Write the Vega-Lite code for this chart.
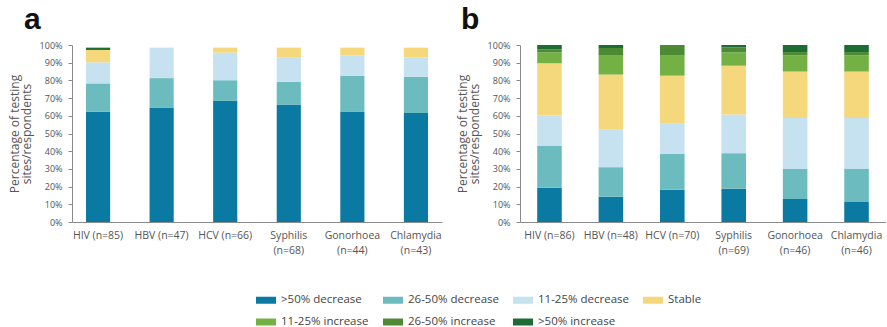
{
  "$schema": "https://vega.github.io/schema/vega-lite/v6.json",
  "background": "white",
  "padding": {"left": 8, "top": 5, "right": 0, "bottom": 4},
  "config": {
    "view": {"stroke": null},
    "font": "Open Sans",
    "concat": {"spacing": 14},
    "axis": {
      "domainColor": "#8a8a8a",
      "tickColor": "#8a8a8a",
      "labelColor": "#555555",
      "titleColor": "#555555",
      "labelFont": "Open Sans",
      "titleFont": "Open Sans",
      "grid": false
    },
    "legend": {
      "labelFont": "Open Sans",
      "labelColor": "#444444",
      "labelFontSize": 11.5
    }
  },
  "datasets": {
    "d": [
      {"panel": "a", "label": "HIV (n=85)", "change": ">50% decrease", "value": 62.2},
      {"panel": "a", "label": "HIV (n=85)", "change": "26-50% decrease", "value": 16.1},
      {"panel": "a", "label": "HIV (n=85)", "change": "11-25% decrease", "value": 11.9},
      {"panel": "a", "label": "HIV (n=85)", "change": "Stable", "value": 7.0},
      {"panel": "a", "label": "HIV (n=85)", "change": ">50% increase", "value": 1.3},
      {"panel": "a", "label": "HBV (n=47)", "change": ">50% decrease", "value": 64.7},
      {"panel": "a", "label": "HBV (n=47)", "change": "26-50% decrease", "value": 16.6},
      {"panel": "a", "label": "HBV (n=47)", "change": "11-25% decrease", "value": 17.2},
      {"panel": "a", "label": "HCV (n=66)", "change": ">50% decrease", "value": 68.4},
      {"panel": "a", "label": "HCV (n=66)", "change": "26-50% decrease", "value": 11.7},
      {"panel": "a", "label": "HCV (n=66)", "change": "11-25% decrease", "value": 15.6},
      {"panel": "a", "label": "HCV (n=66)", "change": "Stable", "value": 2.8},
      {"panel": "a", "label": "Syphilis|(n=68)", "change": ">50% decrease", "value": 66.4},
      {"panel": "a", "label": "Syphilis|(n=68)", "change": "26-50% decrease", "value": 12.8},
      {"panel": "a", "label": "Syphilis|(n=68)", "change": "11-25% decrease", "value": 13.6},
      {"panel": "a", "label": "Syphilis|(n=68)", "change": "Stable", "value": 5.7},
      {"panel": "a", "label": "Gonorhoea|(n=44)", "change": ">50% decrease", "value": 62.4},
      {"panel": "a", "label": "Gonorhoea|(n=44)", "change": "26-50% decrease", "value": 20.2},
      {"panel": "a", "label": "Gonorhoea|(n=44)", "change": "11-25% decrease", "value": 11.4},
      {"panel": "a", "label": "Gonorhoea|(n=44)", "change": "Stable", "value": 4.5},
      {"panel": "a", "label": "Chlamydia|(n=43)", "change": ">50% decrease", "value": 61.6},
      {"panel": "a", "label": "Chlamydia|(n=43)", "change": "26-50% decrease", "value": 20.4},
      {"panel": "a", "label": "Chlamydia|(n=43)", "change": "11-25% decrease", "value": 11.0},
      {"panel": "a", "label": "Chlamydia|(n=43)", "change": "Stable", "value": 5.5},

      {"panel": "b", "label": "HIV (n=86)", "change": ">50% decrease", "value": 19.4},
      {"panel": "b", "label": "HIV (n=86)", "change": "26-50% decrease", "value": 23.5},
      {"panel": "b", "label": "HIV (n=86)", "change": "11-25% decrease", "value": 17.3},
      {"panel": "b", "label": "HIV (n=86)", "change": "Stable", "value": 29.5},
      {"panel": "b", "label": "HIV (n=86)", "change": "11-25% increase", "value": 6.2},
      {"panel": "b", "label": "HIV (n=86)", "change": "26-50% increase", "value": 1.6},
      {"panel": "b", "label": "HIV (n=86)", "change": ">50% increase", "value": 2.5},
      {"panel": "b", "label": "HBV (n=48)", "change": ">50% decrease", "value": 14.3},
      {"panel": "b", "label": "HBV (n=48)", "change": "26-50% decrease", "value": 16.7},
      {"panel": "b", "label": "HBV (n=48)", "change": "11-25% decrease", "value": 21.1},
      {"panel": "b", "label": "HBV (n=48)", "change": "Stable", "value": 31.2},
      {"panel": "b", "label": "HBV (n=48)", "change": "11-25% increase", "value": 10.7},
      {"panel": "b", "label": "HBV (n=48)", "change": "26-50% increase", "value": 4.3},
      {"panel": "b", "label": "HBV (n=48)", "change": ">50% increase", "value": 1.7},
      {"panel": "b", "label": "HCV (n=70)", "change": ">50% decrease", "value": 18.2},
      {"panel": "b", "label": "HCV (n=70)", "change": "26-50% decrease", "value": 20.3},
      {"panel": "b", "label": "HCV (n=70)", "change": "11-25% decrease", "value": 17.0},
      {"panel": "b", "label": "HCV (n=70)", "change": "Stable", "value": 27.2},
      {"panel": "b", "label": "HCV (n=70)", "change": "11-25% increase", "value": 11.3},
      {"panel": "b", "label": "HCV (n=70)", "change": "26-50% increase", "value": 6.0},
      {"panel": "b", "label": "Syphilis|(n=69)", "change": ">50% decrease", "value": 18.8},
      {"panel": "b", "label": "Syphilis|(n=69)", "change": "26-50% decrease", "value": 20.1},
      {"panel": "b", "label": "Syphilis|(n=69)", "change": "11-25% decrease", "value": 21.8},
      {"panel": "b", "label": "Syphilis|(n=69)", "change": "Stable", "value": 27.6},
      {"panel": "b", "label": "Syphilis|(n=69)", "change": "11-25% increase", "value": 7.5},
      {"panel": "b", "label": "Syphilis|(n=69)", "change": "26-50% increase", "value": 2.8},
      {"panel": "b", "label": "Syphilis|(n=69)", "change": ">50% increase", "value": 1.4},
      {"panel": "b", "label": "Gonorhoea|(n=46)", "change": ">50% decrease", "value": 13.0},
      {"panel": "b", "label": "Gonorhoea|(n=46)", "change": "26-50% decrease", "value": 17.0},
      {"panel": "b", "label": "Gonorhoea|(n=46)", "change": "11-25% decrease", "value": 28.8},
      {"panel": "b", "label": "Gonorhoea|(n=46)", "change": "Stable", "value": 26.2},
      {"panel": "b", "label": "Gonorhoea|(n=46)", "change": "11-25% increase", "value": 9.1},
      {"panel": "b", "label": "Gonorhoea|(n=46)", "change": "26-50% increase", "value": 1.9},
      {"panel": "b", "label": "Gonorhoea|(n=46)", "change": ">50% increase", "value": 4.0},
      {"panel": "b", "label": "Chlamydia|(n=46)", "change": ">50% decrease", "value": 11.3},
      {"panel": "b", "label": "Chlamydia|(n=46)", "change": "26-50% decrease", "value": 18.7},
      {"panel": "b", "label": "Chlamydia|(n=46)", "change": "11-25% decrease", "value": 28.8},
      {"panel": "b", "label": "Chlamydia|(n=46)", "change": "Stable", "value": 26.2},
      {"panel": "b", "label": "Chlamydia|(n=46)", "change": "11-25% increase", "value": 9.1},
      {"panel": "b", "label": "Chlamydia|(n=46)", "change": "26-50% increase", "value": 1.9},
      {"panel": "b", "label": "Chlamydia|(n=46)", "change": ">50% increase", "value": 4.0}
    ]
  },
  "hconcat": [
    {
      "title": {"text": "a", "anchor": "start", "frame": "group", "dx": -48, "fontSize": 30, "fontWeight": "bold", "font": "Liberation Sans", "color": "#111111", "offset": 6},
      "width": 370,
      "height": 177,
      "data": {"name": "d"},
      "transform": [
        {"filter": "datum.panel == 'a'"},
        {"calculate": "indexof(['>50% decrease','26-50% decrease','11-25% decrease','Stable','11-25% increase','26-50% increase','>50% increase'], datum.change)", "as": "k"}
      ],
      "mark": {"type": "bar"},
      "encoding": {
        "x": {"field": "label", "type": "nominal", "sort": null,
          "scale": {"paddingInner": 0.62, "paddingOuter": 0.22},
          "axis": {"title": null, "labelAngle": 0, "labelExpr": "split(datum.label, '|')", "ticks": false, "labelPadding": 8, "labelFontSize": 10.5, "labelLineHeight": 15}},
        "y": {"field": "value", "type": "quantitative", "stack": "zero",
          "scale": {"domain": [0, 100], "nice": false},
          "axis": {"values": [0,10,20,30,40,50,60,70,80,90,100], "labelExpr": "datum.value + '%'", "labelFontSize": 9, "tickSize": 4, "labelPadding": 6,
            "title": ["Percentage of testing", "sites/respondents"], "titleFontSize": 12, "titleFontWeight": "normal", "titlePadding": 6, "titleLineHeight": 12}},
        "color": {"field": "change", "type": "nominal",
          "scale": {"domain": [">50% decrease","26-50% decrease","11-25% decrease","Stable","11-25% increase","26-50% increase",">50% increase"],
                    "range": ["#0b7aa2","#6cbcbf","#c6e1ef","#f6d87c","#73b144","#4e8a34","#1c6c34"]},
          "legend": {"title": null, "orient": "none", "legendX": 184, "legendY": 245, "direction": "horizontal", "columns": 4, "symbolType": "M-1,-0.35H1V0.35H-1Z", "symbolSize": 400, "symbolStrokeWidth": 0, "columnPadding": 14, "rowPadding": 6, "labelOffset": 5}},
        "order": {"field": "k", "type": "quantitative"}
      }
    },
    {
      "title": {"text": "b", "anchor": "start", "frame": "group", "dx": -59, "fontSize": 30, "fontWeight": "bold", "font": "Liberation Sans", "color": "#111111", "offset": 6},
      "width": 366,
      "height": 177,
      "data": {"name": "d"},
      "transform": [
        {"filter": "datum.panel == 'b'"},
        {"calculate": "indexof(['>50% decrease','26-50% decrease','11-25% decrease','Stable','11-25% increase','26-50% increase','>50% increase'], datum.change)", "as": "k"}
      ],
      "mark": {"type": "bar"},
      "encoding": {
        "x": {"field": "label", "type": "nominal", "sort": null,
          "scale": {"paddingInner": 0.6, "paddingOuter": 0.28},
          "axis": {"title": null, "labelAngle": 0, "labelExpr": "split(datum.label, '|')", "ticks": false, "labelPadding": 8, "labelFontSize": 10.5, "labelLineHeight": 15}},
        "y": {"field": "value", "type": "quantitative", "stack": "zero",
          "scale": {"domain": [0, 100], "nice": false},
          "axis": {"values": [0,10,20,30,40,50,60,70,80,90,100], "labelExpr": "datum.value + '%'", "labelFontSize": 9, "tickSize": 4, "labelPadding": 6,
            "title": ["Percentage of testing", "sites/respondents"], "titleFontSize": 12, "titleFontWeight": "normal", "titlePadding": 6, "titleLineHeight": 12}},
        "color": {"field": "change", "type": "nominal"},
        "order": {"field": "k", "type": "quantitative"}
      }
    }
  ],
  "resolve": {"scale": {"color": "shared"}}
}
